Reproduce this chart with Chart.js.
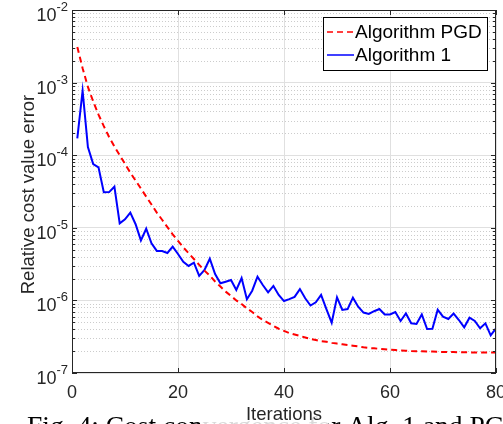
<!DOCTYPE html>
<html>
<head>
<meta charset="utf-8">
<script src="https://cdn.jsdelivr.net/npm/chart.js@4/dist/chart.umd.min.js"></script>
<style>
  html, body { margin: 0; padding: 0; background: #fff; }
  canvas { display: block; }
</style>
</head>
<body>
<canvas id="costChart" width="503" height="424"></canvas>
<script>
// Relative cost value error vs iterations (log scale)

const iterations = Array.from({ length: 80 }, (_, i) => i + 1);

const pgdError = [
    3.09e-3, 1.58e-3, 8.71e-4, 5.50e-4, 3.63e-4, 2.51e-4, 1.78e-4, 1.32e-4, 1.00e-4, 7.59e-5,
    5.75e-5, 4.47e-5, 3.47e-5, 2.69e-5, 2.09e-5, 1.62e-5, 1.29e-5, 1.02e-5, 8.13e-6, 6.61e-6,
    5.37e-6, 4.47e-6, 3.72e-6, 3.09e-6, 2.57e-6, 2.19e-6, 1.82e-6, 1.55e-6, 1.32e-6, 1.15e-6,
    1.00e-6, 8.91e-7, 7.76e-7, 6.92e-7, 6.03e-7, 5.37e-7, 4.90e-7, 4.47e-7, 4.07e-7, 3.80e-7,
    3.55e-7, 3.39e-7, 3.24e-7, 3.09e-7, 2.95e-7, 2.85e-7, 2.75e-7, 2.69e-7, 2.60e-7, 2.54e-7,
    2.48e-7, 2.43e-7, 2.37e-7, 2.32e-7, 2.26e-7, 2.21e-7, 2.19e-7, 2.15e-7, 2.12e-7, 2.09e-7,
    2.07e-7, 2.04e-7, 2.03e-7, 2.01e-7, 2.00e-7, 1.99e-7, 1.98e-7, 1.97e-7, 1.96e-7, 1.95e-7,
    1.94e-7, 1.94e-7, 1.93e-7, 1.93e-7, 1.92e-7, 1.92e-7, 1.91e-7, 1.91e-7, 1.91e-7, 1.91e-7
];

const alg1Error = [
    1.71e-4, 7.74e-4, 1.29e-4, 7.57e-5, 6.80e-5, 3.08e-5, 3.10e-5, 3.68e-5, 1.15e-5, 1.31e-5,
    1.62e-5, 1.12e-5, 6.70e-6, 9.70e-6, 6.10e-6, 4.80e-6, 4.80e-6, 4.50e-6, 5.50e-6, 4.36e-6,
    3.41e-6, 2.98e-6, 3.31e-6, 2.17e-6, 2.62e-6, 3.75e-6, 2.31e-6, 1.72e-6, 1.81e-6, 1.91e-6,
    1.39e-6, 2.03e-6, 1.04e-6, 1.36e-6, 2.12e-6, 1.63e-6, 1.29e-6, 1.58e-6, 1.19e-6, 9.80e-7,
    1.04e-6, 1.12e-6, 1.43e-6, 1.07e-6, 8.50e-7, 9.40e-7, 1.19e-6, 7.60e-7, 4.93e-7, 1.10e-6,
    7.40e-7, 7.60e-7, 1.09e-6, 8.20e-7, 6.80e-7, 6.50e-7, 7.10e-7, 7.60e-7, 6.40e-7, 6.40e-7,
    6.90e-7, 5.20e-7, 6.60e-7, 4.83e-7, 4.73e-7, 6.40e-7, 4.04e-7, 4.07e-7, 7.45e-7, 5.97e-7,
    5.55e-7, 6.60e-7, 5.37e-7, 4.26e-7, 5.78e-7, 5.20e-7, 4.13e-7, 4.83e-7, 3.30e-7, 4.13e-7
];

const xTicks = [0, 20, 40, 60, 80];
const yExponents = [-7, -6, -5, -4, -3, -2];
const seriesLabels = ['Algorithm PGD', 'Algorithm 1'];

const axisColor = '#262626';
const sans = '"Liberation Sans", Arial, sans-serif';

// MATLAB-like box, inward ticks, minor grid, labels, legend
const matlabAxes = {
    id: 'matlabAxes',
    beforeDatasetsDraw(chart) {
        const { ctx, chartArea: a, scales: { y } } = chart;
        ctx.save();
        ctx.strokeStyle = '#cccccc';
        ctx.lineWidth = 1;
        ctx.setLineDash([1, 2]);
        yExponents.slice(0, -1).forEach(e => {
            for (let m = 2; m <= 9; m++) {
                const py = Math.round(y.getPixelForValue(m * Math.pow(10, e))) + 0.5;
                ctx.beginPath();
                ctx.moveTo(a.left, py);
                ctx.lineTo(a.right, py);
                ctx.stroke();
            }
        });
        ctx.restore();
    },
    afterDraw(chart) {
        const { ctx, chartArea: a, scales: { x, y } } = chart;
        ctx.save();

        // box
        ctx.strokeStyle = axisColor;
        ctx.lineWidth = 1;
        ctx.strokeRect(Math.round(a.left) + 0.5, Math.round(a.top) + 0.5,
            Math.round(a.right - a.left) - 1, Math.round(a.bottom - a.top) - 1);

        // y ticks (major + minor) on both sides
        yExponents.forEach((e, idx) => {
            const vals = [Math.pow(10, e)];
            if (idx < yExponents.length - 1) {
                for (let m = 2; m <= 9; m++) vals.push(m * Math.pow(10, e));
            }
            vals.forEach((v, k) => {
                const py = Math.round(y.getPixelForValue(v)) + 0.5;
                const len = k === 0 ? 5 : 3;
                ctx.beginPath();
                ctx.moveTo(a.left, py); ctx.lineTo(a.left + len, py);
                ctx.moveTo(a.right, py); ctx.lineTo(a.right - len, py);
                ctx.stroke();
            });
        });

        // x ticks top and bottom
        xTicks.forEach(v => {
            const px = Math.round(x.getPixelForValue(v)) + 0.5;
            ctx.beginPath();
            ctx.moveTo(px, a.bottom); ctx.lineTo(px, a.bottom - 5);
            ctx.moveTo(px, a.top); ctx.lineTo(px, a.top + 5);
            ctx.stroke();
        });

        // tick labels
        ctx.fillStyle = axisColor;
        ctx.textBaseline = 'alphabetic';
        ctx.font = '18px ' + sans;
        ctx.textAlign = 'center';
        xTicks.forEach(v => {
            ctx.fillText(String(v), x.getPixelForValue(v), a.bottom + 25);
        });

        const labelRight = a.left - 4;
        yExponents.forEach(e => {
            const py = y.getPixelForValue(Math.pow(10, e));
            ctx.font = '13px ' + sans;
            const sup = String(e);
            const supW = ctx.measureText(sup).width;
            ctx.textAlign = 'left';
            ctx.fillText(sup, labelRight - supW, py + 1);
            ctx.font = '18px ' + sans;
            ctx.textAlign = 'right';
            ctx.fillText('10', labelRight - supW, py + 11);
        });

        // y axis title
        ctx.save();
        ctx.translate(34, (a.top + a.bottom) / 2 + 3);
        ctx.rotate(-Math.PI / 2);
        ctx.textAlign = 'center';
        ctx.font = '18.5px ' + sans;
        ctx.fillText('Relative cost value error', 0, 0);
        ctx.restore();

        // caption of the figure, cut by the frame
        ctx.fillStyle = '#000';
        ctx.font = '27.5px "Liberation Serif", "Times New Roman", serif';
        ctx.textAlign = 'left';
        ctx.fillText('Fig. 4: Cost convergence for Alg. 1 and PGD', 27, 435);
        ctx.fillStyle = 'rgba(255,255,255,0.85)';
        ctx.fillRect(200, 402, 128, 22);

        // x axis title
        ctx.fillStyle = axisColor;
        ctx.font = '18.5px ' + sans;
        ctx.textAlign = 'center';
        ctx.fillText('Iterations', (a.left + a.right) / 2, 420);

        // legend
        const bx = 323.5, by = 17.5, bw = 164, bh = 53;
        ctx.fillStyle = '#fff';
        ctx.fillRect(bx, by, bw, bh);
        ctx.strokeStyle = '#000';
        ctx.strokeRect(bx, by, bw, bh);
        chart.data.datasets.forEach((ds, i) => {
            const ly = 32 + i * 23;
            ctx.beginPath();
            ctx.strokeStyle = ds.borderColor;
            ctx.lineWidth = 1.5;
            ctx.setLineDash(ds.borderDash || []);
            ctx.moveTo(327, ly);
            ctx.lineTo(354, ly);
            ctx.stroke();
            ctx.setLineDash([]);
            ctx.fillStyle = '#000';
            ctx.font = '19px ' + sans;
            ctx.textAlign = 'left';
            ctx.textBaseline = 'middle';
            ctx.fillText(ds.label, 355, ly + 1);
        });

        ctx.restore();
    }
};

const ctx = document.getElementById('costChart').getContext('2d');
new Chart(ctx, {
    type: 'line',
    data: {
        datasets: [
            {
                label: seriesLabels[0],
                data: iterations.map((it, i) => ({ x: it, y: pgdError[i] })),
                borderColor: '#ff0000',
                borderDash: [6, 4],
                borderWidth: 2,
                pointRadius: 0,
                tension: 0,
                fill: false
            },
            {
                label: seriesLabels[1],
                data: iterations.map((it, i) => ({ x: it, y: alg1Error[i] })),
                borderColor: '#0000ff',
                borderWidth: 2,
                pointRadius: 0,
                tension: 0,
                fill: false
            }
        ]
    },
    options: {
        responsive: false,
        animation: false,
        layout: { padding: { left: 0, right: 7, top: 10, bottom: 0 } },
        plugins: {
            legend: { display: false },
            tooltip: { enabled: false }
        },
        scales: {
            x: {
                type: 'linear',
                min: 0,
                max: 80,
                afterBuildTicks: s => { s.ticks = xTicks.map(v => ({ value: v })); },
                afterFit: s => { s.height = 51; },
                ticks: { display: false },
                grid: { color: '#e0e0e0', drawTicks: false },
                border: { display: false }
            },
            y: {
                type: 'logarithmic',
                min: 1e-7,
                max: 1e-2,
                afterBuildTicks: s => { s.ticks = yExponents.map(e => ({ value: Math.pow(10, e) })); },
                afterFit: s => { s.width = 72; },
                ticks: { display: false },
                grid: { color: '#e0e0e0', drawTicks: false },
                border: { display: false }
            }
        }
    },
    plugins: [matlabAxes]
});
</script>
</body>
</html>
